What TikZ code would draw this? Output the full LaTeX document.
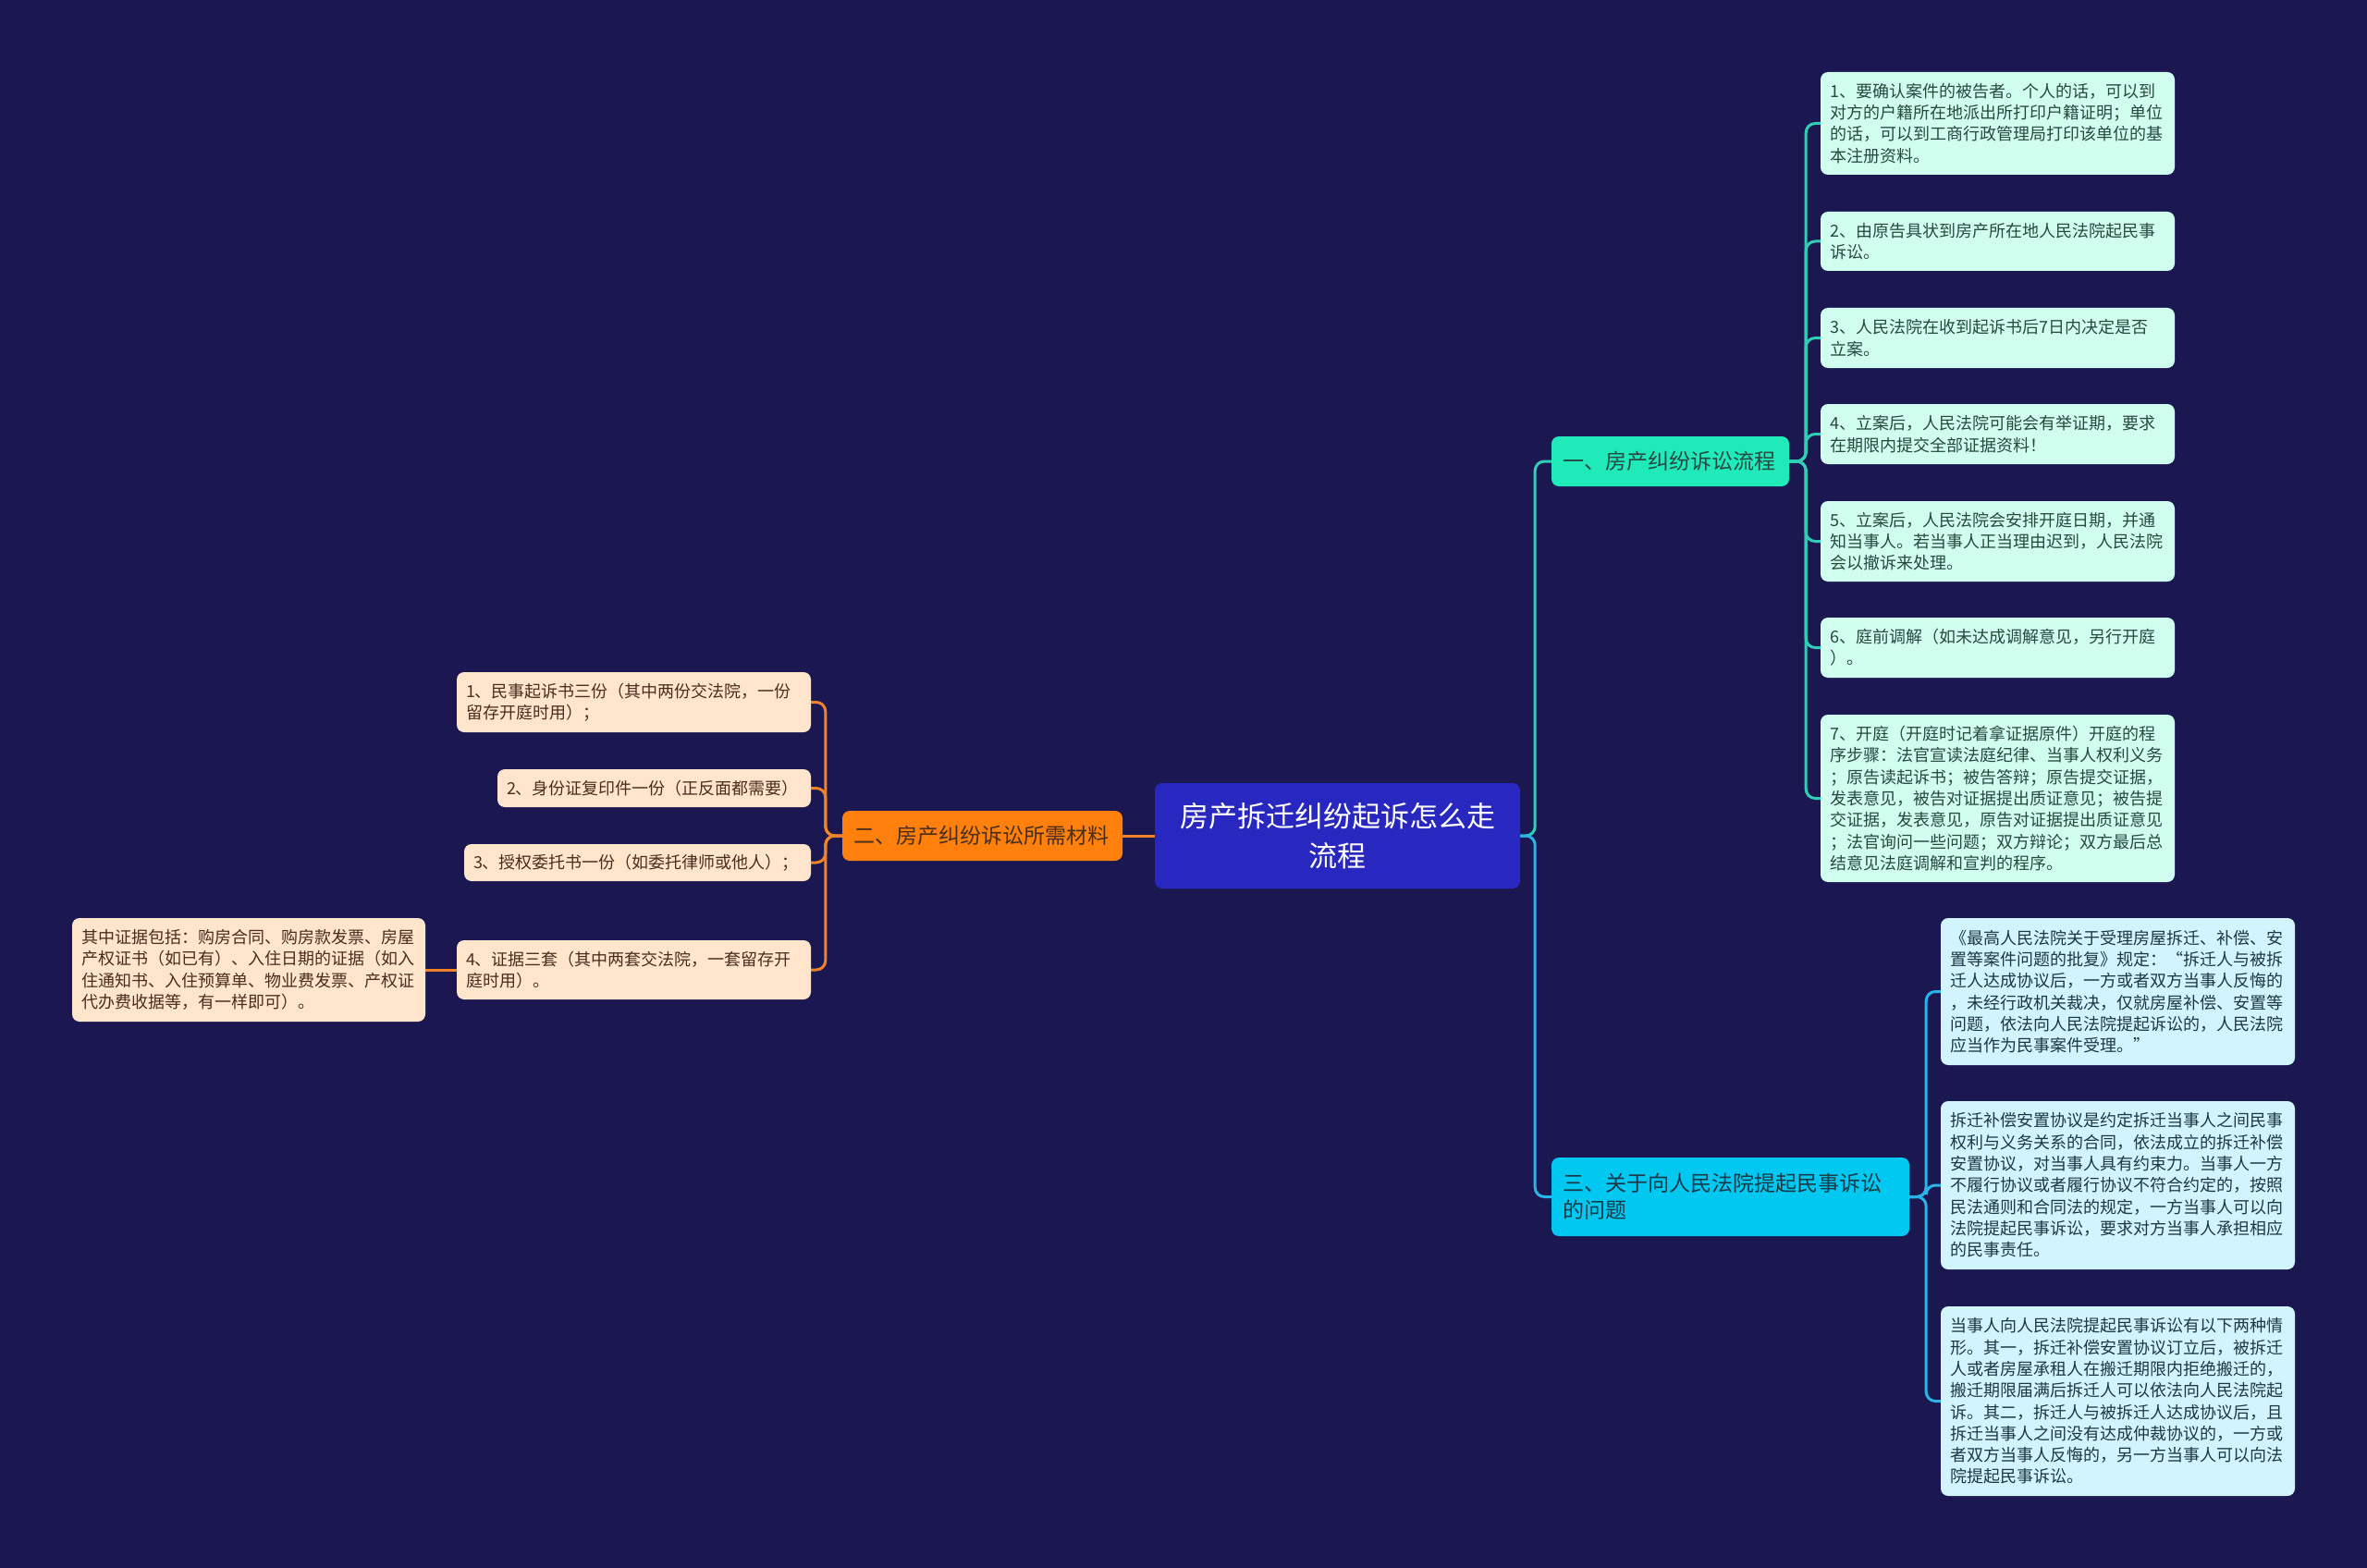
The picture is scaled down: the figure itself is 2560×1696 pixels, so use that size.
\documentclass[tikz,border=0pt]{standalone}
\usepackage{fontspec}
\newfontfamily\cjk{Noto Sans CJK SC}
\definecolor{bg}{RGB}{27,24,81}
\definecolor{rootfill}{RGB}{40,40,192}
\definecolor{tealfill}{RGB}{32,234,186}
\definecolor{tealleaf}{RGB}{208,255,240}
\definecolor{tealline}{RGB}{48,206,180}
\definecolor{tealtext}{RGB}{40,72,64}
\definecolor{orfill}{RGB}{255,128,12}
\definecolor{orleaf}{RGB}{255,229,204}
\definecolor{orline}{RGB}{240,130,40}
\definecolor{ortext}{RGB}{72,46,30}
\definecolor{cyfill}{RGB}{0,200,240}
\definecolor{cyleaf}{RGB}{210,244,252}
\definecolor{cyline}{RGB}{40,180,232}
\definecolor{cytext}{RGB}{28,56,70}
\pgfdeclarelayer{bgl}
\pgfdeclarelayer{lines}
\pgfsetlayers{bgl,lines,main}
\begin{document}
\begin{tikzpicture}[x=1pt,y=-1pt,
  boxbase/.style={rounded corners=8pt, align=left, inner xsep=10pt, inner ysep=0pt, anchor=center},
  leaftxt/.style={font=\cjk\fontsize{18}{23.3}\selectfont},
  tleaf/.style={boxbase, leaftxt, fill=tealleaf, text=tealtext},
  oleaf/.style={boxbase, leaftxt, fill=orleaf, text=ortext},
  cleaf/.style={boxbase, leaftxt, fill=cyleaf, text=cytext},
  branchtxt/.style={font=\cjk\fontsize{23}{29}\selectfont, inner xsep=12pt},
  conn/.style={line width=3pt, rounded corners=10pt}
]
\useasboundingbox (0,0) rectangle (2560,1696);
\begin{pgfonlayer}{bgl}
\fill[bg] (0,0) rectangle (2560,1696);
\end{pgfonlayer}

% nodes
\node[boxbase, fill=rootfill, text=white, align=center, font=\cjk\fontsize{31}{43}\selectfont,
  text width=375pt, minimum height=114pt] (root) at (1446.5,904) {房产拆迁纠纷起诉怎么走\\流程};

\node[boxbase, branchtxt, fill=tealfill, text=tealtext, text width=233pt, minimum height=54pt] (b1) at (1806.5,499) {一、房产纠纷诉讼流程};
\node[boxbase, branchtxt, fill=orfill, text=ortext, text width=279pt, minimum height=54pt] (b2) at (1062.5,904) {二、房产纠纷诉讼所需材料};
\node[boxbase, branchtxt, fill=cyfill, text=cytext, text width=363pt, minimum height=85pt] (b3) at (1871.5,1294.5) {三、关于向人民法院提起民事诉讼\\的问题};

% branch 1 leaves
\node[tleaf, text width=363pt, minimum height=111pt] (r1) at (2160.5,133.5) {1、要确认案件的被告者。个人的话，可以到\\对方的户籍所在地派出所打印户籍证明；单位\\的话，可以到工商行政管理局打印该单位的基\\本注册资料。};
\node[tleaf, text width=363pt, minimum height=64pt] (r2) at (2160.5,261) {2、由原告具状到房产所在地人民法院起民事\\诉讼。};
\node[tleaf, text width=363pt, minimum height=65pt] (r3) at (2160.5,365.5) {3、人民法院在收到起诉书后7日内决定是否\\立案。};
\node[tleaf, text width=363pt, minimum height=65pt] (r4) at (2160.5,469.5) {4、立案后，人民法院可能会有举证期，要求\\在期限内提交全部证据资料！};
\node[tleaf, text width=363pt, minimum height=87pt] (r5) at (2160.5,585.5) {5、立案后，人民法院会安排开庭日期，并通\\知当事人。若当事人正当理由迟到，人民法院\\会以撤诉来处理。};
\node[tleaf, text width=363pt, minimum height=65pt] (r6) at (2160.5,700.5) {6、庭前调解（如未达成调解意见，另行开庭\\）。};
\node[tleaf, text width=363pt, minimum height=181pt] (r7) at (2160.5,863.5) {7、开庭（开庭时记着拿证据原件）开庭的程\\序步骤：法官宣读法庭纪律、当事人权利义务\\；原告读起诉书；被告答辩；原告提交证据，\\发表意见，被告对证据提出质证意见；被告提\\交证据，发表意见，原告对证据提出质证意见\\；法官询问一些问题；双方辩论；双方最后总\\结意见法庭调解和宣判的程序。};

% branch 3 leaves
\node[cleaf, text width=363pt, minimum height=159pt] (s1) at (2290.5,1072.5) {《最高人民法院关于受理房屋拆迁、补偿、安\\置等案件问题的批复》规定：“拆迁人与被拆\\迁人达成协议后，一方或者双方当事人反悔的\\，未经行政机关裁决，仅就房屋补偿、安置等\\问题，依法向人民法院提起诉讼的，人民法院\\应当作为民事案件受理。”};
\node[cleaf, text width=363pt, minimum height=182pt] (s2) at (2290.5,1282) {拆迁补偿安置协议是约定拆迁当事人之间民事\\权利与义务关系的合同，依法成立的拆迁补偿\\安置协议，对当事人具有约束力。当事人一方\\不履行协议或者履行协议不符合约定的，按照\\民法通则和合同法的规定，一方当事人可以向\\法院提起民事诉讼，要求对方当事人承担相应\\的民事责任。};
\node[cleaf, text width=363pt, minimum height=205pt] (s3) at (2290.5,1515.5) {当事人向人民法院提起民事诉讼有以下两种情\\形。其一，拆迁补偿安置协议订立后，被拆迁\\人或者房屋承租人在搬迁期限内拒绝搬迁的，\\搬迁期限届满后拆迁人可以依法向人民法院起\\诉。其二，拆迁人与被拆迁人达成协议后，且\\拆迁当事人之间没有达成仲裁协议的，一方或\\者双方当事人反悔的，另一方当事人可以向法\\院提起民事诉讼。};

% branch 2 leaves
\node[oleaf, text width=363pt, minimum height=65pt] (p1) at (685.5,759.5) {1、民事起诉书三份（其中两份交法院，一份\\留存开庭时用）；};
\node[oleaf, text width=319pt, minimum height=41pt] (p2) at (707.5,852.5) {2、身份证复印件一份（正反面都需要）};
\node[oleaf, text width=355pt, minimum height=40pt] (p3) at (689.5,933) {3、授权委托书一份（如委托律师或他人）；};
\node[oleaf, text width=363pt, minimum height=64pt] (p4) at (685.5,1049) {4、证据三套（其中两套交法院，一套留存开\\庭时用）。};
\node[oleaf, text width=362pt, minimum height=112pt] (q1) at (269,1049) {其中证据包括：购房合同、购房款发票、房屋\\产权证书（如已有）、入住日期的证据（如入\\住通知书、入住预算单、物业费发票、产权证\\代办费收据等，有一样即可）。};

% connectors (behind nodes)
\begin{pgfonlayer}{lines}
\draw[conn, tealline] (root.east) -- ++(16,0) |- (b1.west);
\draw[conn, cyline] (root.east) -- ++(16,0) |- (b3.west);
\draw[conn, orline] (root.west) -- (b2.east);
\foreach \n in {r1,r2,r3,r4,r5,r6,r7}
  \draw[conn, tealline] (b1.east) -- ++(18,0) |- (\n.west);
\foreach \n in {s1,s2,s3}
  \draw[conn, cyline] (b3.east) -- ++(18,0) |- (\n.west);
\foreach \n in {p1,p2,p3,p4}
  \draw[conn, orline] (b2.west) -- ++(-18,0) |- (\n.east);
\draw[conn, orline] (p4.west) -- (q1.east);
\end{pgfonlayer}
\end{tikzpicture}
\end{document}
